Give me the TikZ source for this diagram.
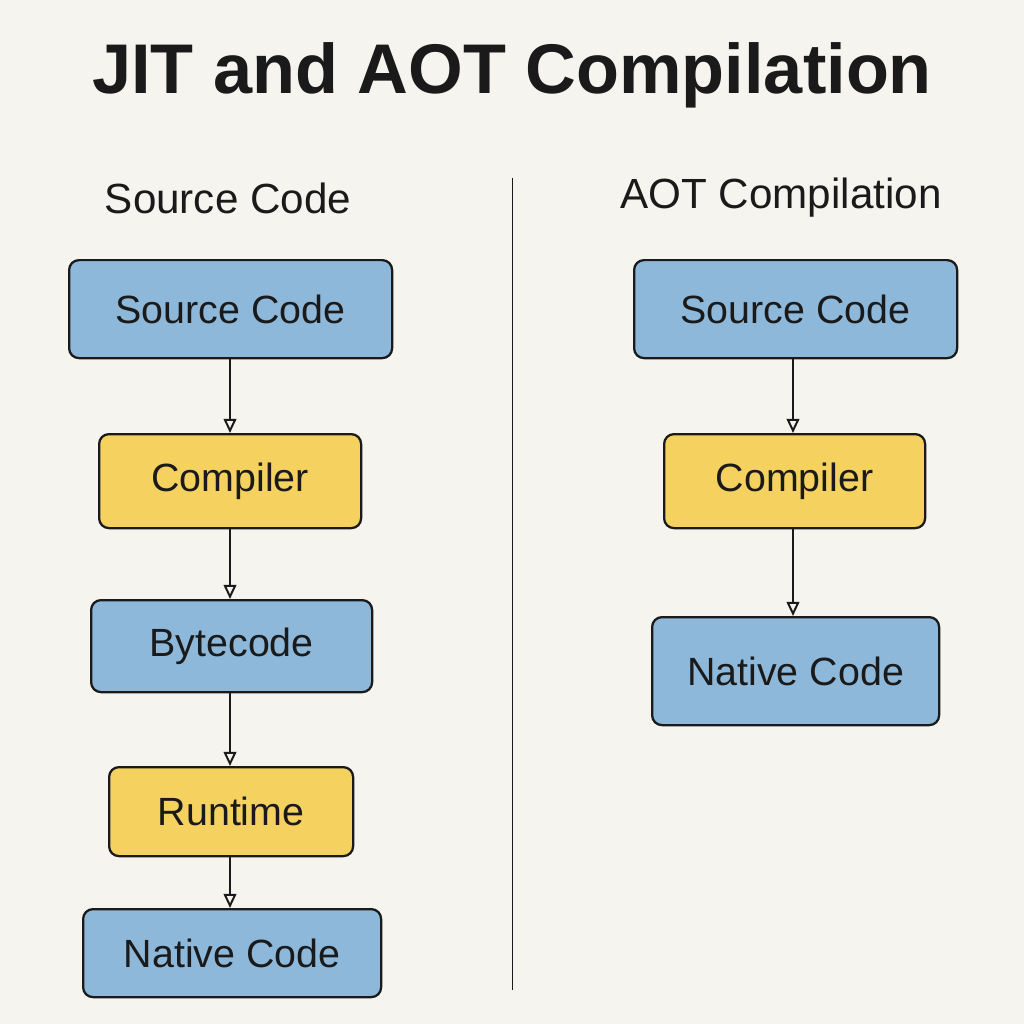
\documentclass[tikz,border=0pt]{standalone}
\usepackage{fontspec}
\setmainfont{Liberation Sans}
\usetikzlibrary{arrows.meta}
\definecolor{bg}{HTML}{F6F4EF}
\definecolor{bluef}{HTML}{8DB8DA}
\definecolor{yelf}{HTML}{F5D160}
\definecolor{ink}{HTML}{1A1A1A}
\tikzset{
  box/.style={draw=ink,line width=1.6pt,rounded corners=7pt,anchor=north west,inner sep=0pt,text=ink,font=\fontsize{28}{30}\selectfont},
  bluebox/.style={box,fill=bluef},
  yelbox/.style={box,fill=yelf},
  arr/.style={draw=ink,line width=1.4pt,-{Stealth[length=10pt,width=9pt,inset=0pt,open]}},
}
\begin{document}
\begin{tikzpicture}[x=0.025cm,y=-0.025cm]
\fill[bg] (0,0) rectangle (1024,1024);
\useasboundingbox (0,0) rectangle (1024,1024);
\node[text=ink,font=\fontsize{50}{54}\bfseries\selectfont] (title) at (512,75) {JIT and AOT Compilation};
\node[text=ink,font=\fontsize{30}{32}\selectfont] (hl) at (228,198) {Source Code};
\node[text=ink,font=\fontsize{30}{32}\selectfont] (hr) at (781,198) {AOT Compilation};
\draw[ink,line width=0.6pt] (512,178) -- (512,990);
\newcommand{\bx}[7]{\node[#1,minimum width=#4*0.025cm-1.6pt,minimum height=#5*0.025cm-1.6pt] (#2) at (#3) {#7};}
% left
\node[bluebox,minimum width=323*0.025cm,minimum height=98*0.025cm] (s1) at (68,259) {Source Code};
\node[yelbox,minimum width=262*0.025cm,minimum height=94*0.025cm] (c1) at (98,433) {Compiler};
\node[bluebox,minimum width=281*0.025cm,minimum height=92*0.025cm] (b1) at (90,599) {Bytecode};
\node[yelbox,minimum width=244*0.025cm,minimum height=89*0.025cm] (r1) at (108,766) {Runtime};
\node[bluebox,minimum width=298*0.025cm,minimum height=88*0.025cm] (n1) at (82,908) {Native Code};
% right
\node[bluebox,minimum width=323*0.025cm,minimum height=98*0.025cm] (s2) at (633,259) {Source Code};
\node[yelbox,minimum width=261*0.025cm,minimum height=94*0.025cm] (c2) at (663,433) {Compiler};
\node[bluebox,minimum width=287*0.025cm,minimum height=108*0.025cm] (n2) at (651,616) {Native Code};
\draw[arr] (s1.south -| 230,0) -- (c1.north -| 230,0);
\draw[arr] (c1.south -| 230,0) -- (b1.north -| 230,0);
\draw[arr] (b1.south -| 230,0) -- (r1.north -| 230,0);
\draw[arr] (r1.south -| 230,0) -- (n1.north -| 230,0);
\draw[arr] (s2.south -| 793,0) -- (c2.north -| 793,0);
\draw[arr] (c2.south -| 793,0) -- (n2.north -| 793,0);
\end{tikzpicture}
\end{document}
